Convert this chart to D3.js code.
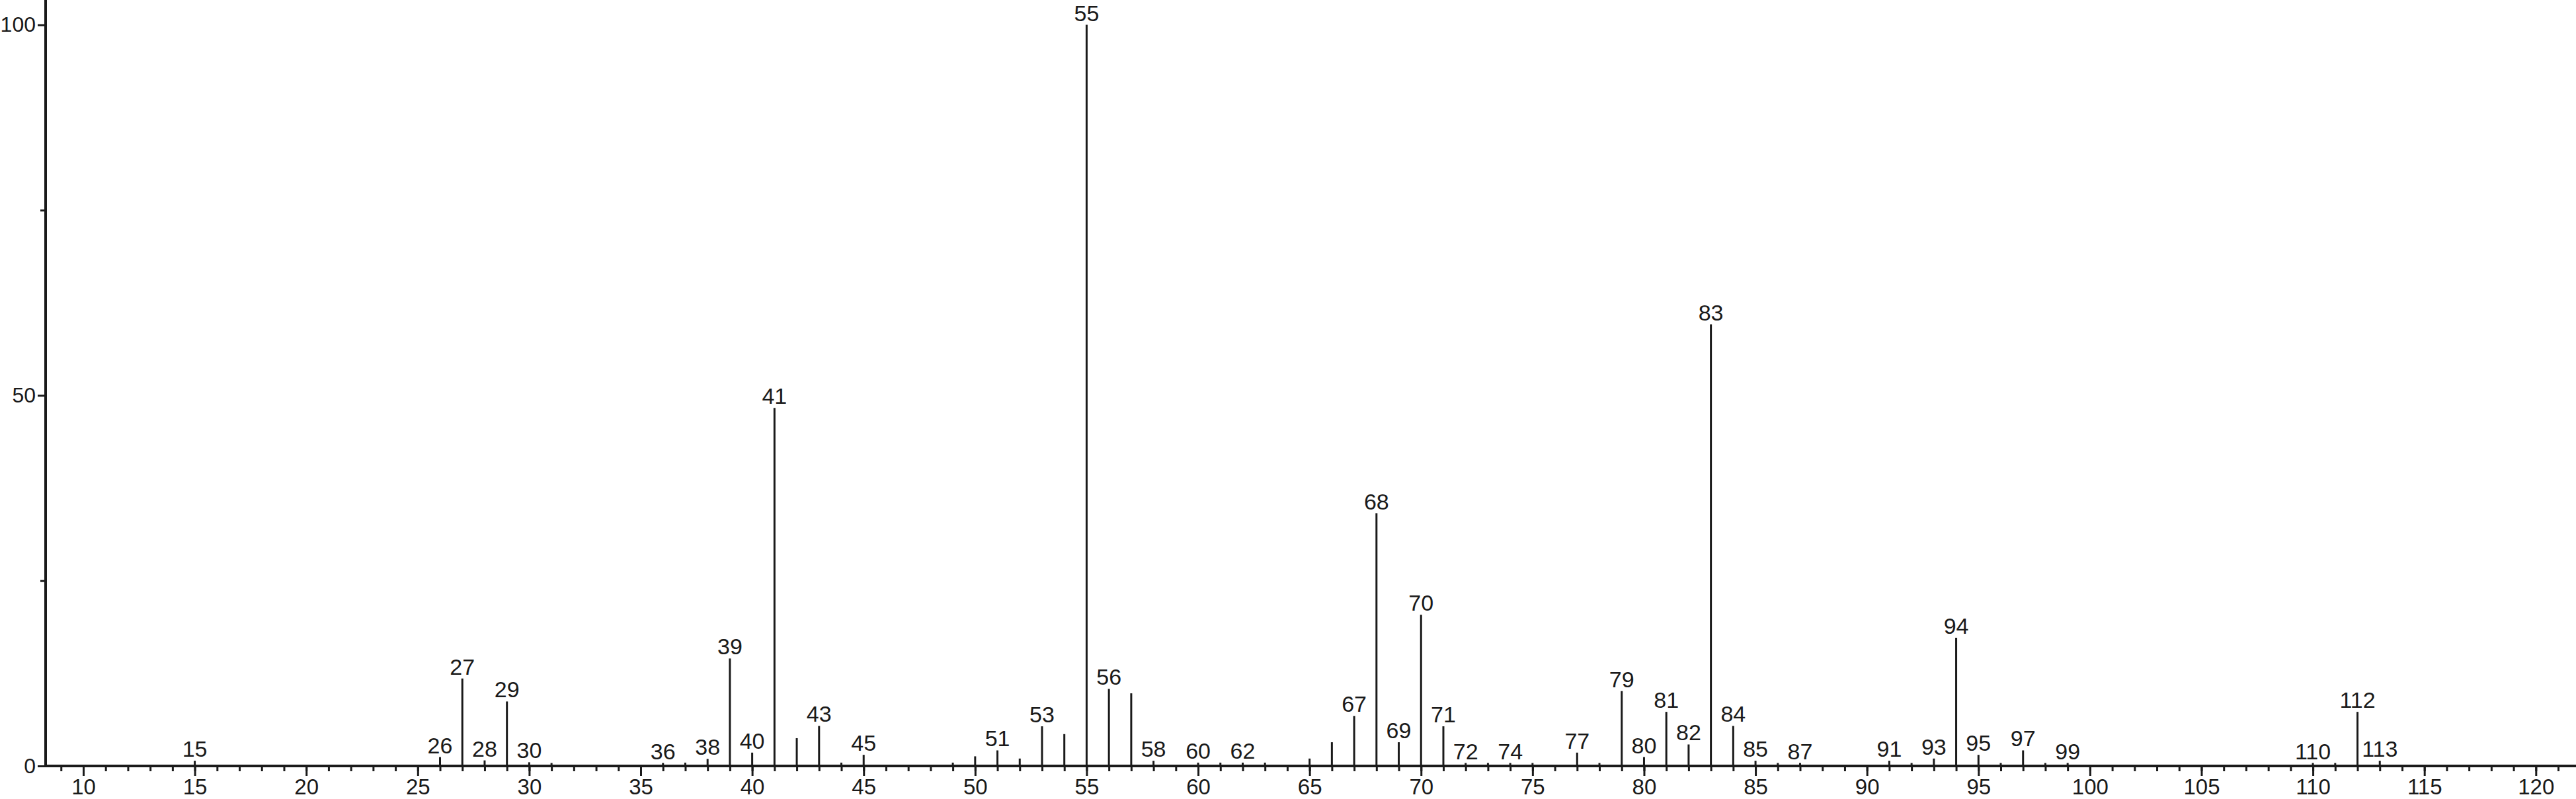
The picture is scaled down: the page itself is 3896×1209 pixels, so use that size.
<!DOCTYPE html>
<html>
<head>
<meta charset="utf-8">
<script src="https://cdn.jsdelivr.net/npm/d3@7"></script>
<style>
  html, body { margin: 0; padding: 0; background: #fff; }
  svg { display: block; }
  text { font-family: "Liberation Sans", Arial, Helvetica, sans-serif; fill: #1a1a1a; }
</style>
</head>
<body>
<svg id="chart" width="3896" height="1209"></svg>
<script>
// m/z values and relative intensities (%)
const mz = [15, 26, 27, 28, 29, 30, 31, 36, 37, 38, 39, 40, 41, 42, 43, 44, 45, 49, 50, 51, 52, 53, 54, 55, 56, 57, 58, 60, 61, 62, 63, 65, 66, 67, 68, 69, 70, 71, 72, 73, 74, 75, 77, 78, 79, 80, 81, 82, 83, 84, 85, 86, 87, 91, 92, 93, 94, 95, 96, 97, 98, 99, 110, 111, 112, 113];
const intensity = [0.7, 1.2, 11.8, 0.75, 8.7, 0.5, 0.4, 0.4, 0.45, 0.95, 14.5, 1.8, 48.3, 3.75, 5.4, 0.45, 1.5, 0.45, 1.3, 2.1, 1.0, 5.35, 4.3, 100, 10.4, 9.8, 0.7, 0.45, 0.45, 0.45, 0.45, 1.0, 3.2, 6.75, 34.1, 3.2, 20.4, 5.35, 0.4, 0.4, 0.4, 0.4, 1.8, 0.4, 10.1, 1.2, 7.3, 2.9, 59.6, 5.4, 0.7, 0.4, 0.4, 0.7, 0.4, 1.0, 17.3, 1.5, 0.4, 2.1, 0.4, 0.4, 0.4, 0.4, 7.3, 0.7];
const labelled = [15, 26, 27, 28, 29, 30, 36, 38, 39, 40, 41, 43, 45, 51, 53, 55, 56, 58, 60, 62, 67, 68, 69, 70, 71, 72, 74, 77, 79, 80, 81, 82, 83, 84, 85, 87, 91, 93, 94, 95, 97, 99, 110, 112, 113];
const xMajorTicks = [10, 15, 20, 25, 30, 35, 40, 45, 50, 55, 60, 65, 70, 75, 80, 85, 90, 95, 100, 105, 110, 115, 120];
const xMinorTicks = d3.range(9, 122);
const yLabelTicks = [0, 50, 100];
const yMinorTicks = [25, 75];

const W = 3896, H = 1209;
const margin = { left: 69, right: 0, top: 0, bottom: 50 };
const svg = d3.select("#chart");

const x = d3.scaleLinear().domain([8.31, 121.8]).range([margin.left, W - margin.right]);
const y = d3.scaleLinear().domain([0, 103.35]).range([H - margin.bottom, margin.top]);

const ink = "#1a1a1a";
const data = mz.map((m, i) => ({ m, v: intensity[i] }));

// minor x ticks
const gxMinor = svg.append("g").attr("transform", `translate(0,${y(0)})`)
  .call(d3.axisBottom(x).tickValues(xMinorTicks).tickSize(8).tickFormat(""));
gxMinor.select(".domain").remove();
gxMinor.selectAll("line").attr("stroke", ink).attr("stroke-width", 3);

// major x ticks + labels
const gx = svg.append("g").attr("transform", `translate(0,${y(0)})`)
  .call(d3.axisBottom(x).tickValues(xMajorTicks).tickSize(15).tickPadding(5).tickFormat(d3.format("d")));
gx.select(".domain").remove();
gx.selectAll("line").attr("stroke", ink).attr("stroke-width", 3);
gx.selectAll("text").attr("font-size", 33).attr("fill", ink)
  .style("font-family", '"Liberation Sans", Arial, sans-serif');

// y axis
const gy = svg.append("g").attr("transform", `translate(${x.range()[0]},0)`)
  .call(d3.axisLeft(y).tickValues(yLabelTicks).tickSize(12).tickPadding(3).tickFormat(d3.format("d")));
gy.select(".domain").remove();
gy.selectAll("line").attr("stroke", ink).attr("stroke-width", 3);
gy.selectAll("text").attr("font-size", 32).attr("fill", ink)
  .style("font-family", '"Liberation Sans", Arial, sans-serif');
const gyMinor = svg.append("g").attr("transform", `translate(${x.range()[0]},0)`)
  .call(d3.axisLeft(y).tickValues(yMinorTicks).tickSize(8).tickFormat(""));
gyMinor.select(".domain").remove();
gyMinor.selectAll("line").attr("stroke", ink).attr("stroke-width", 3);

// axis lines
svg.append("line")
  .attr("x1", x.range()[0]).attr("x2", x.range()[0])
  .attr("y1", y.range()[1]).attr("y2", y(0) + 1.5)
  .attr("stroke", ink).attr("stroke-width", 4);
svg.append("line")
  .attr("x1", x.range()[0]).attr("x2", x.range()[1])
  .attr("y1", y(0)).attr("y2", y(0))
  .attr("stroke", ink).attr("stroke-width", 4);

// peaks
svg.append("g").selectAll("line").data(data).join("line")
  .attr("x1", d => x(d.m)).attr("x2", d => x(d.m))
  .attr("y1", y(0)).attr("y2", d => y(d.v))
  .attr("stroke", ink).attr("stroke-width", 3);

// peak labels
svg.append("g").selectAll("text").data(data.filter(d => labelled.includes(d.m))).join("text")
  .attr("x", d => x(d.m)).attr("y", d => y(d.v) - 6)
  .attr("text-anchor", "middle").attr("font-size", 34)
  .text(d => d.m);
</script>
</body>
</html>
